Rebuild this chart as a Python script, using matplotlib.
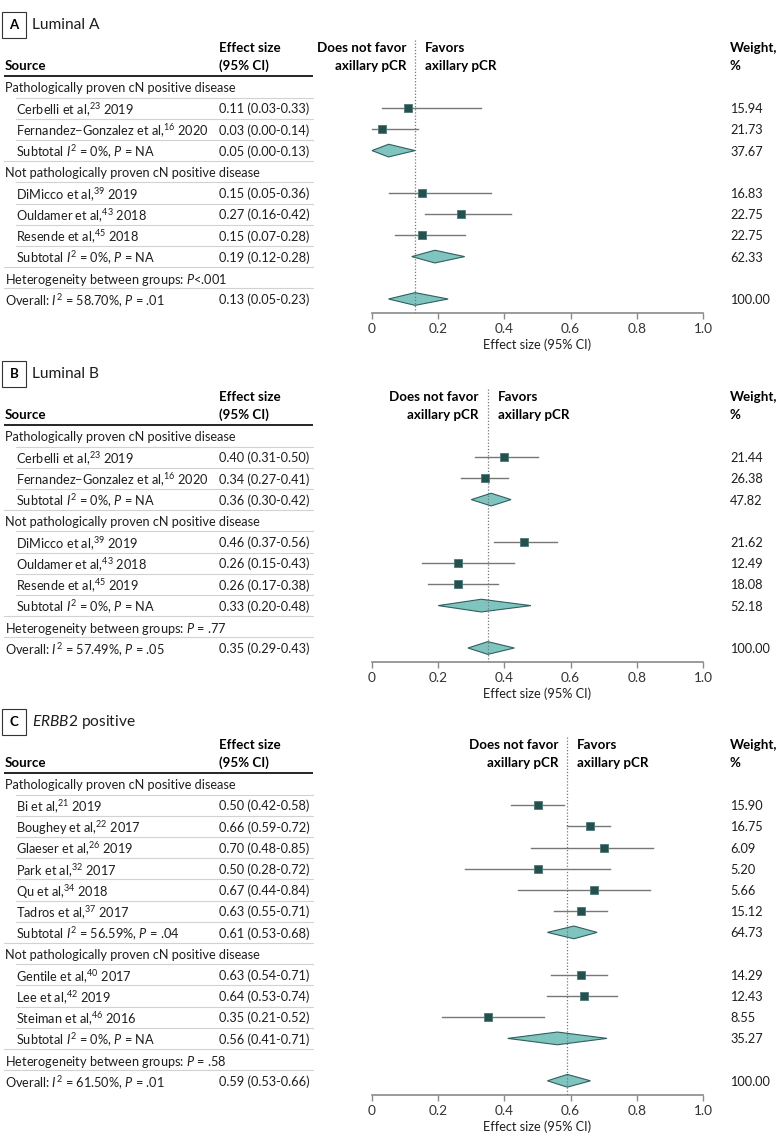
import matplotlib
matplotlib.use("Agg")
import matplotlib.pyplot as plt
import matplotlib.font_manager as fm
import numpy as np

# fonts: narrow sans if we have it
names = {f.name for f in fm.fontManager.ttflist}
FONT = "Liberation Sans Narrow" if "Liberation Sans Narrow" in names else "Lato"
plt.rcParams["font.family"] = [FONT, "DejaVu Sans"]
plt.rcParams["mathtext.fontset"] = "custom"
plt.rcParams["mathtext.rm"] = FONT
plt.rcParams["mathtext.it"] = FONT + ":italic"
plt.rcParams["mathtext.bf"] = FONT + ":bold"

nan = np.nan

# ---- Panel A: Luminal A ----
A_source = ["Pathologically proven cN positive disease",
            "Cerbelli et al,$^{23}$ 2019",
            "Fernandez\u2212Gonzalez et al,$^{16}$ 2020",
            "Subtotal $I^{2}$ = 0%, $P$ = NA",
            "Not pathologically proven cN positive disease",
            "DiMicco et al,$^{39}$ 2019",
            "Ouldamer et al,$^{43}$ 2018",
            "Resende et al,$^{45}$ 2018",
            "Subtotal $I^{2}$ = 0%, $P$ = NA",
            "Heterogeneity between groups: $P$<.001",
            "Overall: $I^{2}$ = 58.70%, $P$ = .01"]
A_kind = ["group", "study", "study", "sub", "group", "study", "study", "study", "sub", "het", "overall"]
A_est = [nan, 0.11, 0.03, 0.05, nan, 0.15, 0.27, 0.15, 0.19, nan, 0.13]
A_lo = [nan, 0.03, 0.00, 0.00, nan, 0.05, 0.16, 0.07, 0.12, nan, 0.05]
A_hi = [nan, 0.33, 0.14, 0.13, nan, 0.36, 0.42, 0.28, 0.28, nan, 0.23]
A_wt = [nan, 15.94, 21.73, 37.67, nan, 16.83, 22.75, 22.75, 62.33, nan, 100.00]

# ---- Panel B: Luminal B ----
B_source = ["Pathologically proven cN positive disease",
            "Cerbelli et al,$^{23}$ 2019",
            "Fernandez\u2212Gonzalez et al,$^{16}$ 2020",
            "Subtotal $I^{2}$ = 0%, $P$ = NA",
            "Not pathologically proven cN positive disease",
            "DiMicco et al,$^{39}$ 2019",
            "Ouldamer et al,$^{43}$ 2018",
            "Resende et al,$^{45}$ 2019",
            "Subtotal $I^{2}$ = 0%, $P$ = NA",
            "Heterogeneity between groups: $P$ = .77",
            "Overall: $I^{2}$ = 57.49%, $P$ = .05"]
B_kind = A_kind
B_est = [nan, 0.40, 0.34, 0.36, nan, 0.46, 0.26, 0.26, 0.33, nan, 0.35]
B_lo = [nan, 0.31, 0.27, 0.30, nan, 0.37, 0.15, 0.17, 0.20, nan, 0.29]
B_hi = [nan, 0.50, 0.41, 0.42, nan, 0.56, 0.43, 0.38, 0.48, nan, 0.43]
B_wt = [nan, 21.44, 26.38, 47.82, nan, 21.62, 12.49, 18.08, 52.18, nan, 100.00]

# ---- Panel C: ERBB2 positive ----
C_source = ["Pathologically proven cN positive disease",
            "Bi et al,$^{21}$ 2019",
            "Boughey et al,$^{22}$ 2017",
            "Glaeser et al,$^{26}$ 2019",
            "Park et al,$^{32}$ 2017",
            "Qu et al,$^{34}$ 2018",
            "Tadros et al,$^{37}$ 2017",
            "Subtotal $I^{2}$ = 56.59%, $P$ = .04",
            "Not pathologically proven cN positive disease",
            "Gentile et al,$^{40}$ 2017",
            "Lee et al,$^{42}$ 2019",
            "Steiman et al,$^{46}$ 2016",
            "Subtotal $I^{2}$ = 0%, $P$ = NA",
            "Heterogeneity between groups: $P$ = .58",
            "Overall: $I^{2}$ = 61.50%, $P$ = .01"]
C_kind = ["group", "study", "study", "study", "study", "study", "study", "sub",
          "group", "study", "study", "study", "sub", "het", "overall"]
C_est = [nan, 0.50, 0.66, 0.70, 0.50, 0.67, 0.63, 0.61, nan, 0.63, 0.64, 0.35, 0.56, nan, 0.59]
C_lo = [nan, 0.42, 0.59, 0.48, 0.28, 0.44, 0.55, 0.53, nan, 0.54, 0.53, 0.21, 0.41, nan, 0.53]
C_hi = [nan, 0.58, 0.72, 0.85, 0.72, 0.84, 0.71, 0.68, nan, 0.71, 0.74, 0.52, 0.71, nan, 0.66]
C_wt = [nan, 15.90, 16.75, 6.09, 5.20, 5.66, 15.12, 64.73, nan, 14.29, 12.43, 8.55, 35.27, nan, 100.00]

xticks = [0, 0.2, 0.4, 0.6, 0.8, 1.0]
xticklabels = ["0", "0.2", "0.4", "0.6", "0.8", "1.0"]

# layout (pixels)
W, H = 780, 1145
X0, XS = 372, 331     # pixel of x=0 and pixel width of 0..1
ROW = 21.2
FS = 9.2      # body text
FB = 9.6      # bold headers
SQ = "#24504f"
DIA = "#80c4c0"
CI = "#777777"
TXT = "#1e1e1e"


def px2x(px):
    return (px - X0) / XS


fig = plt.figure(figsize=(W / 100, H / 100), dpi=100)


def draw_panel(row0, letter, title, source, kind, est, lo, hi, wt):
    n = len(source)
    axis_px = row0 + ROW * (n - 1) + 14
    top = row0 - 80
    ax = fig.add_axes([0, 1 - axis_px / H, 1, (axis_px - top) / H])
    ax.set_xlim(px2x(0), px2x(W))
    axis_r = (axis_px - row0) / ROW
    ax.set_ylim(axis_r, (top - row0) / ROW)
    ax.patch.set_visible(False)
    for s in ["left", "right", "top"]:
        ax.spines[s].set_visible(False)
    ax.spines["bottom"].set_bounds(0, 1)
    ax.spines["bottom"].set_color("#8a8a8a")
    ax.spines["bottom"].set_linewidth(1.2)
    ax.set_yticks([])
    ax.set_xticks(xticks)
    ax.set_xticklabels(xticklabels)
    ax.tick_params(axis="x", direction="out", length=4, width=1.0, color="#8a8a8a",
                   labelsize=9.8, labelcolor="#333333", pad=3)

    def r(off):
        return off / ROW

    # title
    ax.text(px2x(14), r(-62), letter, ha="center", va="center", fontsize=9.5, fontweight="bold",
            bbox=dict(boxstyle="square,pad=0.55", fc="white", ec="#333333", lw=0.8))
    ax.text(px2x(32), r(-62), title, ha="left", va="center", fontsize=11.2, color=TXT)

    # headers
    ax.text(px2x(5), r(-21), "Source", ha="left", va="center", fontsize=FB, fontweight="bold")
    ax.text(px2x(219), r(-39), "Effect size", ha="left", va="center", fontsize=FB, fontweight="bold")
    ax.text(px2x(219), r(-21), "(95% CI)", ha="left", va="center", fontsize=FB, fontweight="bold")
    ov = est[-1]
    ax.text(ov - 9 / XS, r(-39), "Does not favor", ha="right", va="center", fontsize=FB, fontweight="bold")
    ax.text(ov - 9 / XS, r(-21), "axillary pCR", ha="right", va="center", fontsize=FB, fontweight="bold")
    ax.text(ov + 10 / XS, r(-39), "Favors", ha="left", va="center", fontsize=FB, fontweight="bold")
    ax.text(ov + 10 / XS, r(-21), "axillary pCR", ha="left", va="center", fontsize=FB, fontweight="bold")
    ax.text(px2x(730), r(-39), "Weight,", ha="left", va="center", fontsize=FB, fontweight="bold")
    ax.text(px2x(730), r(-21), "%", ha="left", va="center", fontsize=FB, fontweight="bold")
    ax.plot([px2x(4), px2x(313)], [r(-11), r(-11)], color="black", lw=1.2, solid_capstyle="butt")

    # dotted reference line at overall estimate
    ax.plot([ov, ov], [r(-47), axis_r], color="#777777", ls=(0, (1, 1.5)), lw=0.9, zorder=3)

    for i in range(n):
        k = kind[i]
        indent = 16 if k in ("study", "sub") else 5
        ax.text(px2x(indent), i, source[i], ha="left", va="center_baseline", fontsize=FS, color=TXT)
        if not np.isnan(est[i]):
            ax.text(px2x(219), i, f"{est[i]:.2f} ({lo[i]:.2f}-{hi[i]:.2f})", ha="left",
                    va="center_baseline", fontsize=FS, color=TXT)
            ax.text(px2x(730), i, f"{wt[i]:.2f}", ha="left", va="center_baseline", fontsize=FS,
                    color=TXT)
        if k == "study":
            ax.plot([lo[i], hi[i]], [i, i], color=CI, lw=1.0, zorder=2)
            ax.plot(est[i], i, marker="s", ms=6.4, mfc=SQ, mec="#4b7877", mew=0.6, zorder=4)
        elif k in ("sub", "overall"):
            ax.fill([lo[i], est[i], hi[i], est[i]], [i, i - 0.3, i, i + 0.3],
                    fc=DIA, ec="#2f5f5e", lw=0.8, zorder=2)
        if i < n - 1:
            nxt = 16 if kind[i + 1] in ("study", "sub") else 4
            ax.plot([px2x(nxt), px2x(313)], [i + 0.5, i + 0.5], color="#d2d2d2", lw=0.8)

    ax.text(0.5, axis_r + r(32), "Effect size (95% CI)", ha="center", va="center", fontsize=FS,
            color=TXT, clip_on=False)
    return ax


draw_panel(87, "A", "Luminal A", A_source, A_kind, A_est, A_lo, A_hi, A_wt)
draw_panel(436, "B", "Luminal B", B_source, B_kind, B_est, B_lo, B_hi, B_wt)
draw_panel(784, "C", "$\\mathit{ERBB2}$ positive", C_source, C_kind, C_est, C_lo, C_hi, C_wt)

fig.savefig("out.png", dpi=100)
